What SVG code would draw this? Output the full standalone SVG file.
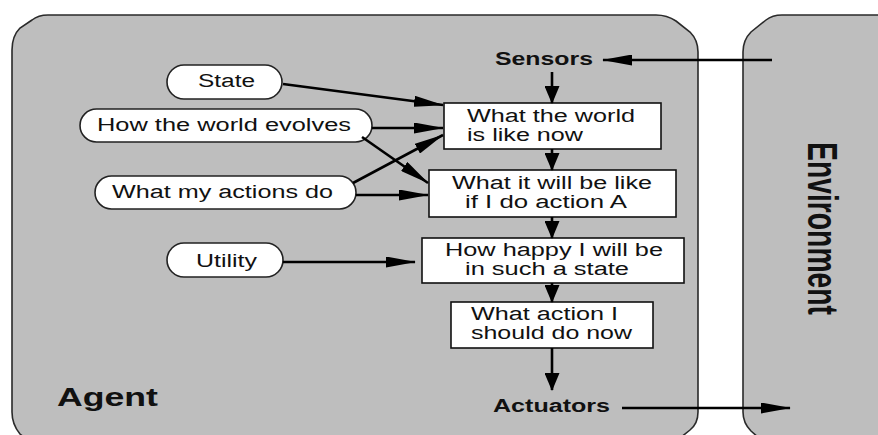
<svg xmlns="http://www.w3.org/2000/svg" width="878" height="435" viewBox="0 0 878 435">
<style>
.region{fill:#bebebe;stroke:#2a2a2a;stroke-width:1.6}
.box{fill:#fff;stroke:#111;stroke-width:1.6}
.oval{fill:#fff;stroke:#222;stroke-width:1.6}
.t{font-family:"Liberation Sans",Arial,sans-serif;font-size:18px;fill:#111}
.b{font-family:"Liberation Sans",Arial,sans-serif;font-size:18px;font-weight:bold;fill:#111}
.c{fill:none;stroke:#000;stroke-width:2.6}
</style>
<defs>
<marker id="ah" markerUnits="userSpaceOnUse" viewBox="0 0 30 11" markerWidth="30" markerHeight="11" refX="29" refY="5.5" orient="auto">
<path d="M0,0 L30,5.5 L0,11 z" fill="#000"/>
</marker>
<marker id="av" markerUnits="userSpaceOnUse" viewBox="0 0 18 15" markerWidth="18" markerHeight="15" refX="17" refY="7.5" orient="auto">
<path d="M0,0 L18,7.5 L0,15 z" fill="#000"/>
</marker>
</defs>
<rect width="878" height="435" fill="#fff"/>
<g id="agent">
<path class="region" d="M12,50 C12,40 14,34 20,28 L32,20 C37,16 42,15 48,15 H656 C664,15 670,17 676,21 L690,32 C695,37 698,43 698,52 V412 C698,420 695,426 690,430 L670,446 C665,449 662,450 656,450 H50 C44,450 40,449 35,446 L20,434 C15,428 12,422 12,412 Z"/>
<text class="b" x="57" y="406" style="font-size:26px" textLength="101" lengthAdjust="spacingAndGlyphs">Agent</text>
</g>
<g id="environment">
<path class="region" d="M900,15 H782 C776,15 771,16 766,20 L751,32 C746,37 743,43 743,52 V412 C743,420 746,426 751,431 L767,445 C771,448 776,450 782,450 H900 Z"/>
<text class="b" style="font-size:30px" text-anchor="middle" textLength="173" lengthAdjust="spacingAndGlyphs" transform="translate(808,228.5) scale(1.4,1) rotate(90)">Environment</text>
</g>
<g id="sensors"><text class="b" x="495" y="65" textLength="98" lengthAdjust="spacingAndGlyphs">Sensors</text></g>
<g id="actuators"><text class="b" x="493" y="412" textLength="117" lengthAdjust="spacingAndGlyphs">Actuators</text></g>
<g id="state">
<rect class="oval" x="167" y="65" width="115" height="34" rx="17"/>
<text class="t" x="198" y="87" textLength="57" lengthAdjust="spacingAndGlyphs">State</text>
</g>
<g id="evolves">
<rect class="oval" x="80" y="109" width="292" height="33" rx="16.5"/>
<text class="t" x="97" y="131" textLength="254" lengthAdjust="spacingAndGlyphs">How the world evolves</text>
</g>
<g id="actions">
<rect class="oval" x="95" y="176" width="261" height="33" rx="16.5"/>
<text class="t" x="112" y="198" textLength="221" lengthAdjust="spacingAndGlyphs">What my actions do</text>
</g>
<g id="utility">
<rect class="oval" x="167" y="243" width="116" height="34" rx="17"/>
<text class="t" x="196" y="267" textLength="61" lengthAdjust="spacingAndGlyphs">Utility</text>
</g>
<g id="world-now">
<rect class="box" x="444" y="103" width="217" height="46"/>
<text class="t" x="467" y="122" textLength="168" lengthAdjust="spacingAndGlyphs">What the world</text>
<text class="t" x="467" y="141" textLength="116" lengthAdjust="spacingAndGlyphs">is like now</text>
</g>
<g id="will-be">
<rect class="box" x="429" y="170" width="247" height="47"/>
<text class="t" x="452" y="189" textLength="200" lengthAdjust="spacingAndGlyphs">What it will be like</text>
<text class="t" x="465" y="208" textLength="162" lengthAdjust="spacingAndGlyphs">if I do action A</text>
</g>
<g id="happy">
<rect class="box" x="422" y="238" width="262" height="45"/>
<text class="t" x="445" y="256" textLength="218" lengthAdjust="spacingAndGlyphs">How happy I will be</text>
<text class="t" x="465" y="275" textLength="164" lengthAdjust="spacingAndGlyphs">in such a state</text>
</g>
<g id="action-now">
<rect class="box" x="451" y="302" width="202" height="46"/>
<text class="t" x="471" y="320" textLength="147" lengthAdjust="spacingAndGlyphs">What action I</text>
<text class="t" x="471" y="339" textLength="161" lengthAdjust="spacingAndGlyphs">should do now</text>
</g>
<g id="connectors">
<line class="c" x1="772" y1="60" x2="603" y2="60" marker-end="url(#ah)"/>
<line class="c" x1="622" y1="408" x2="790" y2="408" marker-end="url(#ah)"/>
<line class="c" x1="552" y1="72" x2="552" y2="103" marker-end="url(#av)"/>
<line class="c" x1="552" y1="149" x2="552" y2="170" marker-end="url(#av)"/>
<line class="c" x1="552" y1="217" x2="552" y2="238" marker-end="url(#av)"/>
<line class="c" x1="552" y1="283" x2="552" y2="302" marker-end="url(#av)"/>
<line class="c" x1="552" y1="348" x2="552" y2="390" marker-end="url(#av)"/>
<line class="c" x1="283" y1="84" x2="443" y2="105" marker-end="url(#ah)"/>
<line class="c" x1="372" y1="128" x2="443" y2="128" marker-end="url(#ah)"/>
<line class="c" x1="362" y1="137" x2="428" y2="183" marker-end="url(#ah)"/>
<line class="c" x1="353" y1="183" x2="443" y2="135" marker-end="url(#ah)"/>
<line class="c" x1="356" y1="195" x2="428" y2="195" marker-end="url(#ah)"/>
<line class="c" x1="283" y1="262" x2="415" y2="262" marker-end="url(#ah)"/>
</g>
</svg>
